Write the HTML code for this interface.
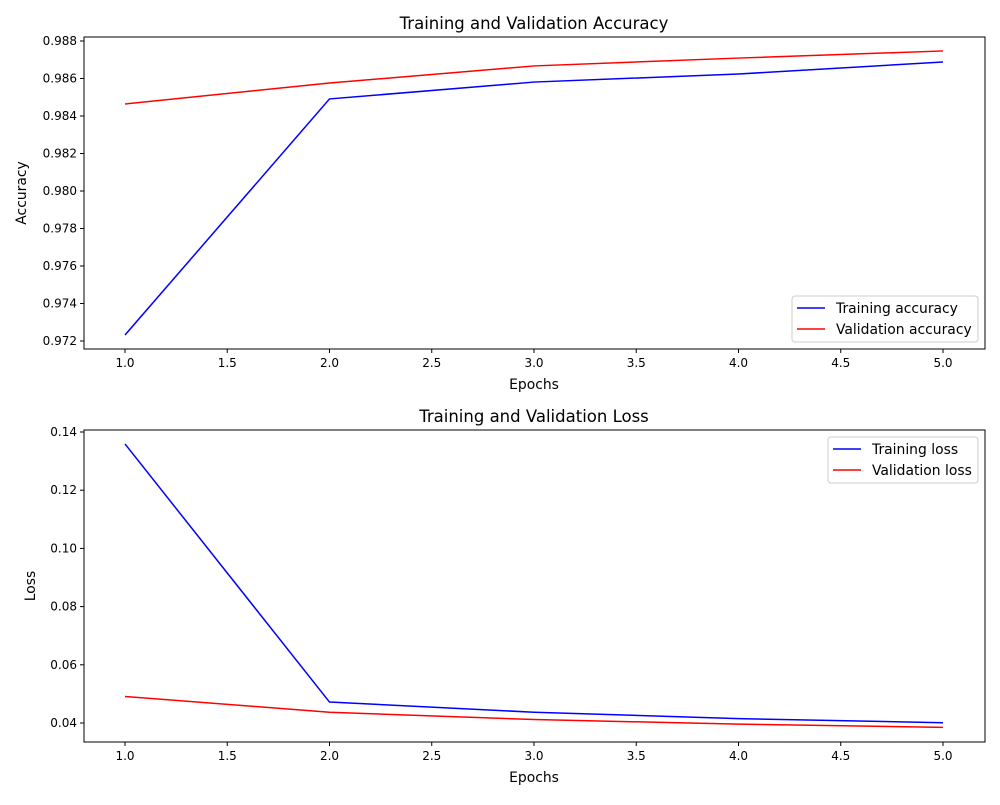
<!DOCTYPE html>
<html><head><meta charset="utf-8"><style>
body{margin:0;background:#fff}
svg text{font-family:"DejaVu Sans","Liberation Sans",sans-serif;fill:#000}
</style></head><body>
<svg id="chart" width="1000" height="800"></svg>
<script>
const epochs=[1,2,3,4,5];
const trainAcc=[0.97232,0.98491,0.98581,0.98624,0.98688];
const valAcc=[0.98464,0.98576,0.98667,0.98709,0.98747];
const trainLoss=[0.1359,0.0472,0.0437,0.0415,0.0401];
const valLoss=[0.0491,0.0437,0.0412,0.0396,0.0385];
const xTicks=[1.0,1.5,2.0,2.5,3.0,3.5,4.0,4.5,5.0];
const accTicks=[0.972,0.974,0.976,0.978,0.980,0.982,0.984,0.986,0.988];
const lossTicks=[0.04,0.06,0.08,0.10,0.12,0.14];
const NS="http://www.w3.org/2000/svg";
const svg=document.getElementById('chart');
function mk(t,a,p){const e=document.createElementNS(NS,t);for(const k in a)e.setAttribute(k,a[k]);(p||svg).appendChild(e);return e;}
const xs=v=>125+(v-1)*204.5;
function panel(cfg){
  const g=mk('g',{});
  
  
  const ys=v=>cfg.y0+(v-cfg.v0)*(cfg.y1-cfg.y0)/(cfg.v1-cfg.v0);
  const L=84,R=985;
  xTicks.forEach(t=>{const x=xs(t);mk('line',{x1:x,x2:x,y1:cfg.bot,y2:cfg.bot+4,stroke:'#000'},g);
    const tx=mk('text',{x:x,y:cfg.bot+18,'text-anchor':'middle','font-size':12},g);tx.textContent=t.toFixed(1);
    });
  cfg.ticks.forEach(t=>{const y=ys(t);mk('line',{x1:L-4,x2:L,y1:y,y2:y,stroke:'#000'},g);
    const tx=mk('text',{x:L-7,y:y+4,'text-anchor':'end','font-size':12},g);tx.textContent=t.toFixed(cfg.dec);
    });
  [[cfg.s1,'#0000ff'],[cfg.s2,'#ff0000']].forEach(([s,c],i)=>{
    const p=mk('polyline',{points:s.map((v,j)=>xs(epochs[j])+','+ys(v)).join(' '),fill:'none',stroke:c,'stroke-width':1.5},g);
    });
  mk('rect',{x:L,y:cfg.top,width:R-L,height:cfg.bot-cfg.top,fill:'none',stroke:'#000','stroke-width':1},g);
  let t=mk('text',{x:534,y:cfg.top-8,'text-anchor':'middle','font-size':16.5},g);t.textContent=cfg.title;
  
  t=mk('text',{x:534,y:cfg.bot+40,'text-anchor':'middle','font-size':13.9},g);t.textContent='Epochs';
  
  t=mk('text',{x:0,y:0,'text-anchor':'middle','font-size':13.9,transform:`translate(${cfg.ylx},${(cfg.top+cfg.bot)/2}) rotate(-90)`},g);t.textContent=cfg.ylabel;
  
  const lg=mk('g',{},g);
  mk('rect',{x:cfg.lx,y:cfg.ly,width:978-cfg.lx,height:46,rx:3,fill:'#fff',stroke:'#ccc'},lg);
  cfg.labels.forEach((lb,i)=>{const y=cfg.ly+12+i*21;
    mk('line',{x1:cfg.lx+5,x2:cfg.lx+33,y1:y,y2:y,stroke:i?'#ff0000':'#0000ff','stroke-width':1.5},lg);
    const tx=mk('text',{x:cfg.lx+44,y:y+5,'font-size':13.9},lg);tx.textContent=lb;
    });
}
panel({name:'accuracy-panel',top:37,bot:349,y0:341,y1:41,v0:0.972,v1:0.988,ticks:accTicks,dec:3,s1:trainAcc,s2:valAcc,
  title:'Training and Validation Accuracy',ylabel:'Accuracy',ylx:26,lx:792,ly:296,labels:['Training accuracy','Validation accuracy']});
panel({name:'loss-panel',top:430,bot:742,y0:723,y1:432,v0:0.04,v1:0.14,ticks:lossTicks,dec:2,s1:trainLoss,s2:valLoss,
  title:'Training and Validation Loss',ylabel:'Loss',ylx:35,lx:828,ly:437,labels:['Training loss','Validation loss']});
</script>
</body></html>
